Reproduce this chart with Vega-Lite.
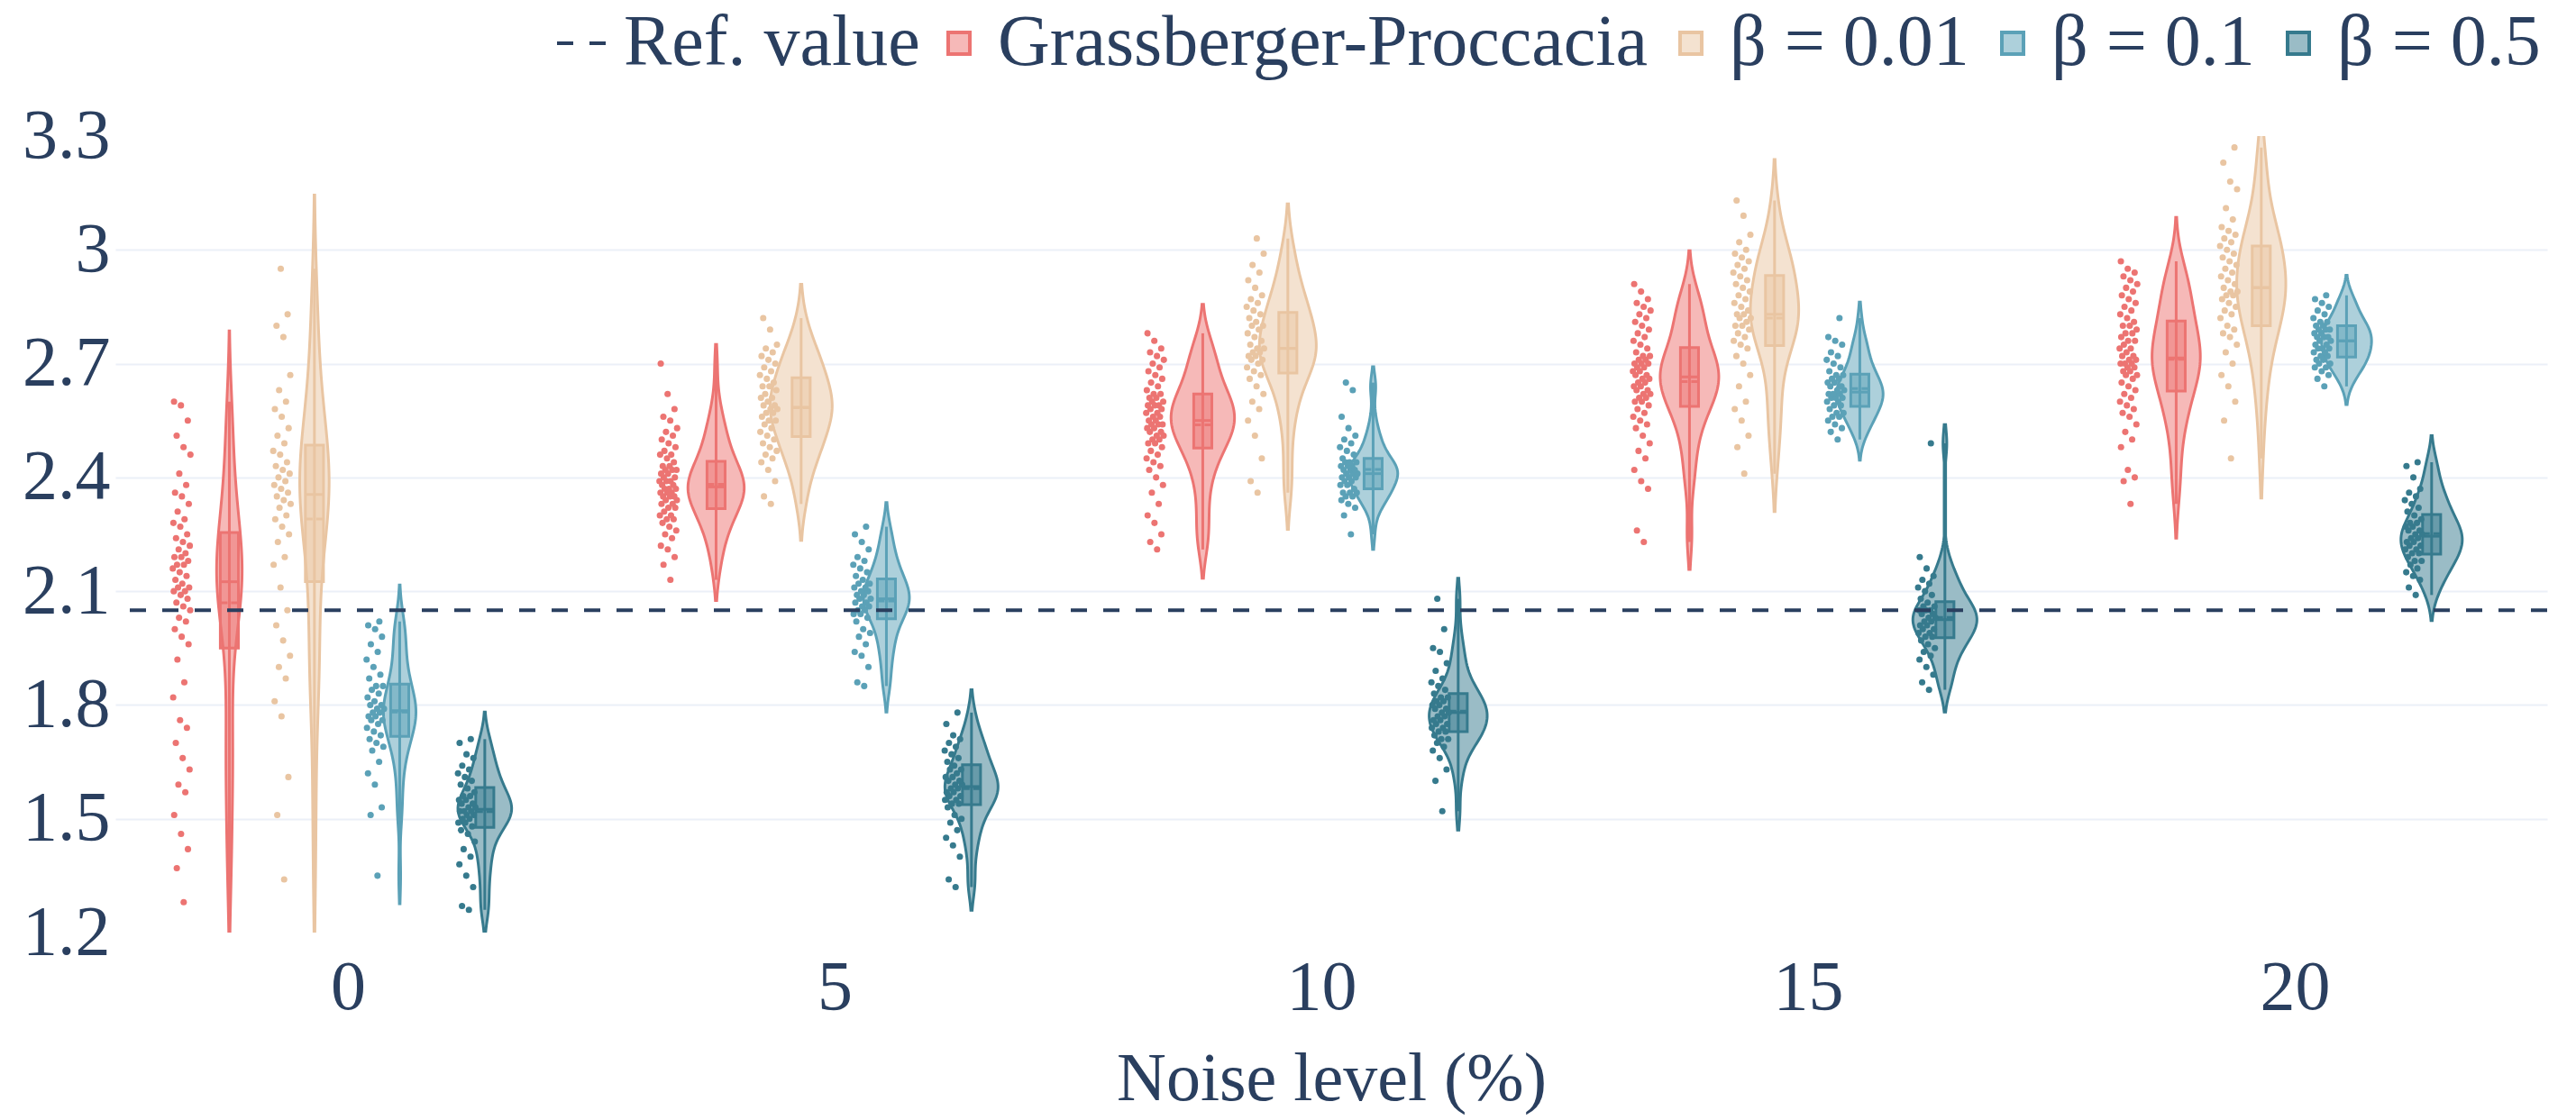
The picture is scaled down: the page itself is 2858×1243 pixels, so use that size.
{
"$schema": "https://vega.github.io/schema/vega-lite/v6.json",
"width": 2698, "height": 884,
"autosize": {"type": "none"},
"padding": {"left": 128, "top": 151, "right": 32, "bottom": 208},
"background": "white",
"config": {
  "view": {"stroke": null},
  "font": "Liberation Serif",
  "axis": {"labelFont": "Liberation Serif", "titleFont": "Liberation Serif", "labelColor": "#2a3f5f", "titleColor": "#2a3f5f", "domain": false, "ticks": false, "titleFontWeight": "normal"},
  "legend": {"labelFont": "Liberation Serif", "labelFontSize": 80, "labelColor": "#2a3f5f", "labelLimit": 2000, "padding": 0, "titlePadding": 0}
},
"datasets": {"pts": [
{"n":0,"g":0,"v":1.28},{"n":0,"g":0,"v":1.37},{"n":0,"g":0,"v":1.42},{"n":0,"g":0,"v":1.46},{"n":0,"g":0,"v":1.51},{"n":0,"g":0,"v":1.57},{"n":0,"g":0,"v":1.59},{"n":0,"g":0,"v":1.63},{"n":0,"g":0,"v":1.66},{"n":0,"g":0,"v":1.70},{"n":0,"g":0,"v":1.74},{"n":0,"g":0,"v":1.76},{"n":0,"g":0,"v":1.82},{"n":0,"g":0,"v":1.86},{"n":0,"g":0,"v":1.92},{"n":0,"g":0,"v":1.96},{"n":0,"g":0,"v":1.98},{"n":0,"g":0,"v":2.00},{"n":0,"g":0,"v":2.02},{"n":0,"g":0,"v":2.03},{"n":0,"g":0,"v":2.05},{"n":0,"g":0,"v":2.06},{"n":0,"g":0,"v":2.07},{"n":0,"g":0,"v":2.08},{"n":0,"g":0,"v":2.09},{"n":0,"g":0,"v":2.10},{"n":0,"g":0,"v":2.10},{"n":0,"g":0,"v":2.11},{"n":0,"g":0,"v":2.11},{"n":0,"g":0,"v":2.12},{"n":0,"g":0,"v":2.13},{"n":0,"g":0,"v":2.14},{"n":0,"g":0,"v":2.15},{"n":0,"g":0,"v":2.16},{"n":0,"g":0,"v":2.17},{"n":0,"g":0,"v":2.17},{"n":0,"g":0,"v":2.18},{"n":0,"g":0,"v":2.19},{"n":0,"g":0,"v":2.19},{"n":0,"g":0,"v":2.20},{"n":0,"g":0,"v":2.21},{"n":0,"g":0,"v":2.22},{"n":0,"g":0,"v":2.23},{"n":0,"g":0,"v":2.24},{"n":0,"g":0,"v":2.25},{"n":0,"g":0,"v":2.27},{"n":0,"g":0,"v":2.28},{"n":0,"g":0,"v":2.29},{"n":0,"g":0,"v":2.31},{"n":0,"g":0,"v":2.33},{"n":0,"g":0,"v":2.35},{"n":0,"g":0,"v":2.36},{"n":0,"g":0,"v":2.38},{"n":0,"g":0,"v":2.41},{"n":0,"g":0,"v":2.46},{"n":0,"g":0,"v":2.48},{"n":0,"g":0,"v":2.51},{"n":0,"g":0,"v":2.55},{"n":0,"g":0,"v":2.59},{"n":0,"g":0,"v":2.60},
{"n":0,"g":1,"v":1.34},{"n":0,"g":1,"v":1.51},{"n":0,"g":1,"v":1.61},{"n":0,"g":1,"v":1.77},{"n":0,"g":1,"v":1.81},{"n":0,"g":1,"v":1.87},{"n":0,"g":1,"v":1.90},{"n":0,"g":1,"v":1.93},{"n":0,"g":1,"v":1.97},{"n":0,"g":1,"v":2.01},{"n":0,"g":1,"v":2.05},{"n":0,"g":1,"v":2.11},{"n":0,"g":1,"v":2.17},{"n":0,"g":1,"v":2.19},{"n":0,"g":1,"v":2.23},{"n":0,"g":1,"v":2.25},{"n":0,"g":1,"v":2.27},{"n":0,"g":1,"v":2.29},{"n":0,"g":1,"v":2.30},{"n":0,"g":1,"v":2.32},{"n":0,"g":1,"v":2.33},{"n":0,"g":1,"v":2.34},{"n":0,"g":1,"v":2.35},{"n":0,"g":1,"v":2.36},{"n":0,"g":1,"v":2.37},{"n":0,"g":1,"v":2.38},{"n":0,"g":1,"v":2.39},{"n":0,"g":1,"v":2.40},{"n":0,"g":1,"v":2.41},{"n":0,"g":1,"v":2.42},{"n":0,"g":1,"v":2.43},{"n":0,"g":1,"v":2.44},{"n":0,"g":1,"v":2.46},{"n":0,"g":1,"v":2.47},{"n":0,"g":1,"v":2.49},{"n":0,"g":1,"v":2.51},{"n":0,"g":1,"v":2.53},{"n":0,"g":1,"v":2.56},{"n":0,"g":1,"v":2.58},{"n":0,"g":1,"v":2.60},{"n":0,"g":1,"v":2.63},{"n":0,"g":1,"v":2.67},{"n":0,"g":1,"v":2.77},{"n":0,"g":1,"v":2.80},{"n":0,"g":1,"v":2.83},{"n":0,"g":1,"v":2.95},
{"n":0,"g":2,"v":1.35},{"n":0,"g":2,"v":1.51},{"n":0,"g":2,"v":1.53},{"n":0,"g":2,"v":1.59},{"n":0,"g":2,"v":1.62},{"n":0,"g":2,"v":1.65},{"n":0,"g":2,"v":1.68},{"n":0,"g":2,"v":1.69},{"n":0,"g":2,"v":1.70},{"n":0,"g":2,"v":1.71},{"n":0,"g":2,"v":1.72},{"n":0,"g":2,"v":1.73},{"n":0,"g":2,"v":1.74},{"n":0,"g":2,"v":1.75},{"n":0,"g":2,"v":1.76},{"n":0,"g":2,"v":1.76},{"n":0,"g":2,"v":1.77},{"n":0,"g":2,"v":1.77},{"n":0,"g":2,"v":1.78},{"n":0,"g":2,"v":1.78},{"n":0,"g":2,"v":1.79},{"n":0,"g":2,"v":1.79},{"n":0,"g":2,"v":1.80},{"n":0,"g":2,"v":1.80},{"n":0,"g":2,"v":1.81},{"n":0,"g":2,"v":1.82},{"n":0,"g":2,"v":1.83},{"n":0,"g":2,"v":1.84},{"n":0,"g":2,"v":1.85},{"n":0,"g":2,"v":1.85},{"n":0,"g":2,"v":1.87},{"n":0,"g":2,"v":1.88},{"n":0,"g":2,"v":1.90},{"n":0,"g":2,"v":1.92},{"n":0,"g":2,"v":1.94},{"n":0,"g":2,"v":1.96},{"n":0,"g":2,"v":1.98},{"n":0,"g":2,"v":2.00},{"n":0,"g":2,"v":2.01},{"n":0,"g":2,"v":2.02},
{"n":0,"g":3,"v":1.26},{"n":0,"g":3,"v":1.27},{"n":0,"g":3,"v":1.32},{"n":0,"g":3,"v":1.35},{"n":0,"g":3,"v":1.38},{"n":0,"g":3,"v":1.40},{"n":0,"g":3,"v":1.42},{"n":0,"g":3,"v":1.44},{"n":0,"g":3,"v":1.46},{"n":0,"g":3,"v":1.47},{"n":0,"g":3,"v":1.48},{"n":0,"g":3,"v":1.49},{"n":0,"g":3,"v":1.49},{"n":0,"g":3,"v":1.50},{"n":0,"g":3,"v":1.50},{"n":0,"g":3,"v":1.51},{"n":0,"g":3,"v":1.51},{"n":0,"g":3,"v":1.52},{"n":0,"g":3,"v":1.52},{"n":0,"g":3,"v":1.52},{"n":0,"g":3,"v":1.53},{"n":0,"g":3,"v":1.53},{"n":0,"g":3,"v":1.54},{"n":0,"g":3,"v":1.54},{"n":0,"g":3,"v":1.55},{"n":0,"g":3,"v":1.55},{"n":0,"g":3,"v":1.56},{"n":0,"g":3,"v":1.56},{"n":0,"g":3,"v":1.57},{"n":0,"g":3,"v":1.58},{"n":0,"g":3,"v":1.59},{"n":0,"g":3,"v":1.60},{"n":0,"g":3,"v":1.61},{"n":0,"g":3,"v":1.62},{"n":0,"g":3,"v":1.63},{"n":0,"g":3,"v":1.64},{"n":0,"g":3,"v":1.66},{"n":0,"g":3,"v":1.67},{"n":0,"g":3,"v":1.70},{"n":0,"g":3,"v":1.71},
{"n":5,"g":0,"v":2.13},{"n":5,"g":0,"v":2.17},{"n":5,"g":0,"v":2.19},{"n":5,"g":0,"v":2.21},{"n":5,"g":0,"v":2.22},{"n":5,"g":0,"v":2.24},{"n":5,"g":0,"v":2.25},{"n":5,"g":0,"v":2.26},{"n":5,"g":0,"v":2.27},{"n":5,"g":0,"v":2.28},{"n":5,"g":0,"v":2.29},{"n":5,"g":0,"v":2.29},{"n":5,"g":0,"v":2.30},{"n":5,"g":0,"v":2.30},{"n":5,"g":0,"v":2.31},{"n":5,"g":0,"v":2.32},{"n":5,"g":0,"v":2.32},{"n":5,"g":0,"v":2.33},{"n":5,"g":0,"v":2.33},{"n":5,"g":0,"v":2.34},{"n":5,"g":0,"v":2.34},{"n":5,"g":0,"v":2.35},{"n":5,"g":0,"v":2.35},{"n":5,"g":0,"v":2.35},{"n":5,"g":0,"v":2.36},{"n":5,"g":0,"v":2.36},{"n":5,"g":0,"v":2.36},{"n":5,"g":0,"v":2.37},{"n":5,"g":0,"v":2.37},{"n":5,"g":0,"v":2.37},{"n":5,"g":0,"v":2.38},{"n":5,"g":0,"v":2.38},{"n":5,"g":0,"v":2.39},{"n":5,"g":0,"v":2.39},{"n":5,"g":0,"v":2.39},{"n":5,"g":0,"v":2.40},{"n":5,"g":0,"v":2.40},{"n":5,"g":0,"v":2.41},{"n":5,"g":0,"v":2.41},{"n":5,"g":0,"v":2.42},{"n":5,"g":0,"v":2.42},{"n":5,"g":0,"v":2.42},{"n":5,"g":0,"v":2.43},{"n":5,"g":0,"v":2.43},{"n":5,"g":0,"v":2.44},{"n":5,"g":0,"v":2.45},{"n":5,"g":0,"v":2.46},{"n":5,"g":0,"v":2.46},{"n":5,"g":0,"v":2.47},{"n":5,"g":0,"v":2.48},{"n":5,"g":0,"v":2.49},{"n":5,"g":0,"v":2.50},{"n":5,"g":0,"v":2.51},{"n":5,"g":0,"v":2.52},{"n":5,"g":0,"v":2.53},{"n":5,"g":0,"v":2.55},{"n":5,"g":0,"v":2.56},{"n":5,"g":0,"v":2.58},{"n":5,"g":0,"v":2.62},{"n":5,"g":0,"v":2.70},
{"n":5,"g":1,"v":2.33},{"n":5,"g":1,"v":2.35},{"n":5,"g":1,"v":2.39},{"n":5,"g":1,"v":2.42},{"n":5,"g":1,"v":2.44},{"n":5,"g":1,"v":2.45},{"n":5,"g":1,"v":2.46},{"n":5,"g":1,"v":2.47},{"n":5,"g":1,"v":2.48},{"n":5,"g":1,"v":2.49},{"n":5,"g":1,"v":2.50},{"n":5,"g":1,"v":2.51},{"n":5,"g":1,"v":2.52},{"n":5,"g":1,"v":2.53},{"n":5,"g":1,"v":2.54},{"n":5,"g":1,"v":2.55},{"n":5,"g":1,"v":2.55},{"n":5,"g":1,"v":2.56},{"n":5,"g":1,"v":2.57},{"n":5,"g":1,"v":2.57},{"n":5,"g":1,"v":2.58},{"n":5,"g":1,"v":2.58},{"n":5,"g":1,"v":2.59},{"n":5,"g":1,"v":2.59},{"n":5,"g":1,"v":2.60},{"n":5,"g":1,"v":2.61},{"n":5,"g":1,"v":2.61},{"n":5,"g":1,"v":2.62},{"n":5,"g":1,"v":2.63},{"n":5,"g":1,"v":2.64},{"n":5,"g":1,"v":2.64},{"n":5,"g":1,"v":2.65},{"n":5,"g":1,"v":2.66},{"n":5,"g":1,"v":2.67},{"n":5,"g":1,"v":2.68},{"n":5,"g":1,"v":2.69},{"n":5,"g":1,"v":2.70},{"n":5,"g":1,"v":2.71},{"n":5,"g":1,"v":2.72},{"n":5,"g":1,"v":2.73},{"n":5,"g":1,"v":2.74},{"n":5,"g":1,"v":2.75},{"n":5,"g":1,"v":2.79},{"n":5,"g":1,"v":2.82},
{"n":5,"g":2,"v":1.85},{"n":5,"g":2,"v":1.86},{"n":5,"g":2,"v":1.90},{"n":5,"g":2,"v":1.93},{"n":5,"g":2,"v":1.94},{"n":5,"g":2,"v":1.96},{"n":5,"g":2,"v":1.98},{"n":5,"g":2,"v":1.99},{"n":5,"g":2,"v":2.00},{"n":5,"g":2,"v":2.02},{"n":5,"g":2,"v":2.03},{"n":5,"g":2,"v":2.04},{"n":5,"g":2,"v":2.04},{"n":5,"g":2,"v":2.05},{"n":5,"g":2,"v":2.05},{"n":5,"g":2,"v":2.06},{"n":5,"g":2,"v":2.06},{"n":5,"g":2,"v":2.07},{"n":5,"g":2,"v":2.07},{"n":5,"g":2,"v":2.08},{"n":5,"g":2,"v":2.08},{"n":5,"g":2,"v":2.09},{"n":5,"g":2,"v":2.09},{"n":5,"g":2,"v":2.10},{"n":5,"g":2,"v":2.10},{"n":5,"g":2,"v":2.11},{"n":5,"g":2,"v":2.11},{"n":5,"g":2,"v":2.12},{"n":5,"g":2,"v":2.12},{"n":5,"g":2,"v":2.13},{"n":5,"g":2,"v":2.14},{"n":5,"g":2,"v":2.15},{"n":5,"g":2,"v":2.16},{"n":5,"g":2,"v":2.17},{"n":5,"g":2,"v":2.18},{"n":5,"g":2,"v":2.19},{"n":5,"g":2,"v":2.21},{"n":5,"g":2,"v":2.23},{"n":5,"g":2,"v":2.25},{"n":5,"g":2,"v":2.27},
{"n":5,"g":3,"v":1.32},{"n":5,"g":3,"v":1.34},{"n":5,"g":3,"v":1.40},{"n":5,"g":3,"v":1.43},{"n":5,"g":3,"v":1.45},{"n":5,"g":3,"v":1.47},{"n":5,"g":3,"v":1.49},{"n":5,"g":3,"v":1.50},{"n":5,"g":3,"v":1.51},{"n":5,"g":3,"v":1.53},{"n":5,"g":3,"v":1.54},{"n":5,"g":3,"v":1.54},{"n":5,"g":3,"v":1.55},{"n":5,"g":3,"v":1.55},{"n":5,"g":3,"v":1.56},{"n":5,"g":3,"v":1.56},{"n":5,"g":3,"v":1.57},{"n":5,"g":3,"v":1.57},{"n":5,"g":3,"v":1.58},{"n":5,"g":3,"v":1.58},{"n":5,"g":3,"v":1.59},{"n":5,"g":3,"v":1.59},{"n":5,"g":3,"v":1.60},{"n":5,"g":3,"v":1.60},{"n":5,"g":3,"v":1.61},{"n":5,"g":3,"v":1.61},{"n":5,"g":3,"v":1.62},{"n":5,"g":3,"v":1.63},{"n":5,"g":3,"v":1.63},{"n":5,"g":3,"v":1.64},{"n":5,"g":3,"v":1.65},{"n":5,"g":3,"v":1.66},{"n":5,"g":3,"v":1.67},{"n":5,"g":3,"v":1.68},{"n":5,"g":3,"v":1.69},{"n":5,"g":3,"v":1.70},{"n":5,"g":3,"v":1.71},{"n":5,"g":3,"v":1.72},{"n":5,"g":3,"v":1.75},{"n":5,"g":3,"v":1.78},
{"n":10,"g":0,"v":2.21},{"n":10,"g":0,"v":2.23},{"n":10,"g":0,"v":2.25},{"n":10,"g":0,"v":2.28},{"n":10,"g":0,"v":2.30},{"n":10,"g":0,"v":2.33},{"n":10,"g":0,"v":2.36},{"n":10,"g":0,"v":2.38},{"n":10,"g":0,"v":2.40},{"n":10,"g":0,"v":2.42},{"n":10,"g":0,"v":2.43},{"n":10,"g":0,"v":2.44},{"n":10,"g":0,"v":2.45},{"n":10,"g":0,"v":2.46},{"n":10,"g":0,"v":2.47},{"n":10,"g":0,"v":2.48},{"n":10,"g":0,"v":2.49},{"n":10,"g":0,"v":2.49},{"n":10,"g":0,"v":2.50},{"n":10,"g":0,"v":2.50},{"n":10,"g":0,"v":2.51},{"n":10,"g":0,"v":2.51},{"n":10,"g":0,"v":2.52},{"n":10,"g":0,"v":2.52},{"n":10,"g":0,"v":2.53},{"n":10,"g":0,"v":2.53},{"n":10,"g":0,"v":2.54},{"n":10,"g":0,"v":2.54},{"n":10,"g":0,"v":2.54},{"n":10,"g":0,"v":2.55},{"n":10,"g":0,"v":2.55},{"n":10,"g":0,"v":2.56},{"n":10,"g":0,"v":2.56},{"n":10,"g":0,"v":2.57},{"n":10,"g":0,"v":2.57},{"n":10,"g":0,"v":2.58},{"n":10,"g":0,"v":2.58},{"n":10,"g":0,"v":2.59},{"n":10,"g":0,"v":2.59},{"n":10,"g":0,"v":2.59},{"n":10,"g":0,"v":2.60},{"n":10,"g":0,"v":2.60},{"n":10,"g":0,"v":2.61},{"n":10,"g":0,"v":2.61},{"n":10,"g":0,"v":2.62},{"n":10,"g":0,"v":2.62},{"n":10,"g":0,"v":2.63},{"n":10,"g":0,"v":2.64},{"n":10,"g":0,"v":2.65},{"n":10,"g":0,"v":2.66},{"n":10,"g":0,"v":2.67},{"n":10,"g":0,"v":2.68},{"n":10,"g":0,"v":2.69},{"n":10,"g":0,"v":2.70},{"n":10,"g":0,"v":2.71},{"n":10,"g":0,"v":2.72},{"n":10,"g":0,"v":2.73},{"n":10,"g":0,"v":2.74},{"n":10,"g":0,"v":2.76},{"n":10,"g":0,"v":2.78},
{"n":10,"g":1,"v":2.36},{"n":10,"g":1,"v":2.39},{"n":10,"g":1,"v":2.45},{"n":10,"g":1,"v":2.51},{"n":10,"g":1,"v":2.55},{"n":10,"g":1,"v":2.58},{"n":10,"g":1,"v":2.60},{"n":10,"g":1,"v":2.62},{"n":10,"g":1,"v":2.64},{"n":10,"g":1,"v":2.66},{"n":10,"g":1,"v":2.67},{"n":10,"g":1,"v":2.68},{"n":10,"g":1,"v":2.69},{"n":10,"g":1,"v":2.70},{"n":10,"g":1,"v":2.71},{"n":10,"g":1,"v":2.71},{"n":10,"g":1,"v":2.72},{"n":10,"g":1,"v":2.72},{"n":10,"g":1,"v":2.73},{"n":10,"g":1,"v":2.73},{"n":10,"g":1,"v":2.74},{"n":10,"g":1,"v":2.74},{"n":10,"g":1,"v":2.75},{"n":10,"g":1,"v":2.76},{"n":10,"g":1,"v":2.77},{"n":10,"g":1,"v":2.78},{"n":10,"g":1,"v":2.79},{"n":10,"g":1,"v":2.80},{"n":10,"g":1,"v":2.80},{"n":10,"g":1,"v":2.81},{"n":10,"g":1,"v":2.82},{"n":10,"g":1,"v":2.83},{"n":10,"g":1,"v":2.84},{"n":10,"g":1,"v":2.85},{"n":10,"g":1,"v":2.86},{"n":10,"g":1,"v":2.87},{"n":10,"g":1,"v":2.88},{"n":10,"g":1,"v":2.90},{"n":10,"g":1,"v":2.92},{"n":10,"g":1,"v":2.94},{"n":10,"g":1,"v":2.96},{"n":10,"g":1,"v":2.99},{"n":10,"g":1,"v":3.03},
{"n":10,"g":2,"v":2.25},{"n":10,"g":2,"v":2.30},{"n":10,"g":2,"v":2.32},{"n":10,"g":2,"v":2.33},{"n":10,"g":2,"v":2.34},{"n":10,"g":2,"v":2.35},{"n":10,"g":2,"v":2.35},{"n":10,"g":2,"v":2.36},{"n":10,"g":2,"v":2.36},{"n":10,"g":2,"v":2.36},{"n":10,"g":2,"v":2.37},{"n":10,"g":2,"v":2.38},{"n":10,"g":2,"v":2.38},{"n":10,"g":2,"v":2.39},{"n":10,"g":2,"v":2.39},{"n":10,"g":2,"v":2.40},{"n":10,"g":2,"v":2.40},{"n":10,"g":2,"v":2.40},{"n":10,"g":2,"v":2.41},{"n":10,"g":2,"v":2.41},{"n":10,"g":2,"v":2.41},{"n":10,"g":2,"v":2.42},{"n":10,"g":2,"v":2.42},{"n":10,"g":2,"v":2.42},{"n":10,"g":2,"v":2.43},{"n":10,"g":2,"v":2.43},{"n":10,"g":2,"v":2.43},{"n":10,"g":2,"v":2.44},{"n":10,"g":2,"v":2.44},{"n":10,"g":2,"v":2.44},{"n":10,"g":2,"v":2.45},{"n":10,"g":2,"v":2.46},{"n":10,"g":2,"v":2.47},{"n":10,"g":2,"v":2.48},{"n":10,"g":2,"v":2.49},{"n":10,"g":2,"v":2.50},{"n":10,"g":2,"v":2.51},{"n":10,"g":2,"v":2.53},{"n":10,"g":2,"v":2.56},{"n":10,"g":2,"v":2.63},{"n":10,"g":2,"v":2.65},
{"n":10,"g":3,"v":1.52},{"n":10,"g":3,"v":1.60},{"n":10,"g":3,"v":1.63},{"n":10,"g":3,"v":1.66},{"n":10,"g":3,"v":1.68},{"n":10,"g":3,"v":1.69},{"n":10,"g":3,"v":1.70},{"n":10,"g":3,"v":1.71},{"n":10,"g":3,"v":1.71},{"n":10,"g":3,"v":1.72},{"n":10,"g":3,"v":1.73},{"n":10,"g":3,"v":1.73},{"n":10,"g":3,"v":1.74},{"n":10,"g":3,"v":1.74},{"n":10,"g":3,"v":1.75},{"n":10,"g":3,"v":1.75},{"n":10,"g":3,"v":1.76},{"n":10,"g":3,"v":1.76},{"n":10,"g":3,"v":1.77},{"n":10,"g":3,"v":1.77},{"n":10,"g":3,"v":1.78},{"n":10,"g":3,"v":1.78},{"n":10,"g":3,"v":1.79},{"n":10,"g":3,"v":1.79},{"n":10,"g":3,"v":1.80},{"n":10,"g":3,"v":1.80},{"n":10,"g":3,"v":1.81},{"n":10,"g":3,"v":1.81},{"n":10,"g":3,"v":1.82},{"n":10,"g":3,"v":1.82},{"n":10,"g":3,"v":1.83},{"n":10,"g":3,"v":1.84},{"n":10,"g":3,"v":1.85},{"n":10,"g":3,"v":1.86},{"n":10,"g":3,"v":1.87},{"n":10,"g":3,"v":1.89},{"n":10,"g":3,"v":1.91},{"n":10,"g":3,"v":1.94},{"n":10,"g":3,"v":1.95},{"n":10,"g":3,"v":2.00},{"n":10,"g":3,"v":2.08},
{"n":15,"g":0,"v":2.23},{"n":15,"g":0,"v":2.26},{"n":15,"g":0,"v":2.37},{"n":15,"g":0,"v":2.39},{"n":15,"g":0,"v":2.42},{"n":15,"g":0,"v":2.45},{"n":15,"g":0,"v":2.47},{"n":15,"g":0,"v":2.49},{"n":15,"g":0,"v":2.51},{"n":15,"g":0,"v":2.53},{"n":15,"g":0,"v":2.54},{"n":15,"g":0,"v":2.55},{"n":15,"g":0,"v":2.56},{"n":15,"g":0,"v":2.57},{"n":15,"g":0,"v":2.58},{"n":15,"g":0,"v":2.59},{"n":15,"g":0,"v":2.60},{"n":15,"g":0,"v":2.60},{"n":15,"g":0,"v":2.61},{"n":15,"g":0,"v":2.61},{"n":15,"g":0,"v":2.62},{"n":15,"g":0,"v":2.62},{"n":15,"g":0,"v":2.63},{"n":15,"g":0,"v":2.63},{"n":15,"g":0,"v":2.64},{"n":15,"g":0,"v":2.64},{"n":15,"g":0,"v":2.65},{"n":15,"g":0,"v":2.65},{"n":15,"g":0,"v":2.66},{"n":15,"g":0,"v":2.66},{"n":15,"g":0,"v":2.67},{"n":15,"g":0,"v":2.67},{"n":15,"g":0,"v":2.68},{"n":15,"g":0,"v":2.68},{"n":15,"g":0,"v":2.69},{"n":15,"g":0,"v":2.69},{"n":15,"g":0,"v":2.70},{"n":15,"g":0,"v":2.70},{"n":15,"g":0,"v":2.70},{"n":15,"g":0,"v":2.71},{"n":15,"g":0,"v":2.71},{"n":15,"g":0,"v":2.72},{"n":15,"g":0,"v":2.72},{"n":15,"g":0,"v":2.73},{"n":15,"g":0,"v":2.74},{"n":15,"g":0,"v":2.75},{"n":15,"g":0,"v":2.76},{"n":15,"g":0,"v":2.77},{"n":15,"g":0,"v":2.78},{"n":15,"g":0,"v":2.79},{"n":15,"g":0,"v":2.80},{"n":15,"g":0,"v":2.81},{"n":15,"g":0,"v":2.82},{"n":15,"g":0,"v":2.83},{"n":15,"g":0,"v":2.84},{"n":15,"g":0,"v":2.85},{"n":15,"g":0,"v":2.86},{"n":15,"g":0,"v":2.87},{"n":15,"g":0,"v":2.89},{"n":15,"g":0,"v":2.91},
{"n":15,"g":1,"v":2.41},{"n":15,"g":1,"v":2.48},{"n":15,"g":1,"v":2.51},{"n":15,"g":1,"v":2.55},{"n":15,"g":1,"v":2.58},{"n":15,"g":1,"v":2.60},{"n":15,"g":1,"v":2.64},{"n":15,"g":1,"v":2.67},{"n":15,"g":1,"v":2.70},{"n":15,"g":1,"v":2.72},{"n":15,"g":1,"v":2.74},{"n":15,"g":1,"v":2.75},{"n":15,"g":1,"v":2.76},{"n":15,"g":1,"v":2.77},{"n":15,"g":1,"v":2.78},{"n":15,"g":1,"v":2.79},{"n":15,"g":1,"v":2.80},{"n":15,"g":1,"v":2.80},{"n":15,"g":1,"v":2.81},{"n":15,"g":1,"v":2.82},{"n":15,"g":1,"v":2.82},{"n":15,"g":1,"v":2.83},{"n":15,"g":1,"v":2.83},{"n":15,"g":1,"v":2.84},{"n":15,"g":1,"v":2.85},{"n":15,"g":1,"v":2.86},{"n":15,"g":1,"v":2.87},{"n":15,"g":1,"v":2.88},{"n":15,"g":1,"v":2.89},{"n":15,"g":1,"v":2.90},{"n":15,"g":1,"v":2.91},{"n":15,"g":1,"v":2.92},{"n":15,"g":1,"v":2.93},{"n":15,"g":1,"v":2.94},{"n":15,"g":1,"v":2.95},{"n":15,"g":1,"v":2.96},{"n":15,"g":1,"v":2.97},{"n":15,"g":1,"v":2.98},{"n":15,"g":1,"v":2.99},{"n":15,"g":1,"v":3.00},{"n":15,"g":1,"v":3.02},{"n":15,"g":1,"v":3.04},{"n":15,"g":1,"v":3.09},{"n":15,"g":1,"v":3.13},
{"n":15,"g":2,"v":2.50},{"n":15,"g":2,"v":2.52},{"n":15,"g":2,"v":2.53},{"n":15,"g":2,"v":2.54},{"n":15,"g":2,"v":2.55},{"n":15,"g":2,"v":2.56},{"n":15,"g":2,"v":2.56},{"n":15,"g":2,"v":2.57},{"n":15,"g":2,"v":2.57},{"n":15,"g":2,"v":2.58},{"n":15,"g":2,"v":2.59},{"n":15,"g":2,"v":2.59},{"n":15,"g":2,"v":2.60},{"n":15,"g":2,"v":2.60},{"n":15,"g":2,"v":2.61},{"n":15,"g":2,"v":2.61},{"n":15,"g":2,"v":2.61},{"n":15,"g":2,"v":2.62},{"n":15,"g":2,"v":2.62},{"n":15,"g":2,"v":2.62},{"n":15,"g":2,"v":2.63},{"n":15,"g":2,"v":2.63},{"n":15,"g":2,"v":2.64},{"n":15,"g":2,"v":2.64},{"n":15,"g":2,"v":2.65},{"n":15,"g":2,"v":2.65},{"n":15,"g":2,"v":2.66},{"n":15,"g":2,"v":2.66},{"n":15,"g":2,"v":2.67},{"n":15,"g":2,"v":2.67},{"n":15,"g":2,"v":2.68},{"n":15,"g":2,"v":2.69},{"n":15,"g":2,"v":2.70},{"n":15,"g":2,"v":2.71},{"n":15,"g":2,"v":2.72},{"n":15,"g":2,"v":2.73},{"n":15,"g":2,"v":2.75},{"n":15,"g":2,"v":2.76},{"n":15,"g":2,"v":2.77},{"n":15,"g":2,"v":2.82},
{"n":15,"g":3,"v":1.84},{"n":15,"g":3,"v":1.86},{"n":15,"g":3,"v":1.88},{"n":15,"g":3,"v":1.90},{"n":15,"g":3,"v":1.92},{"n":15,"g":3,"v":1.93},{"n":15,"g":3,"v":1.94},{"n":15,"g":3,"v":1.95},{"n":15,"g":3,"v":1.96},{"n":15,"g":3,"v":1.97},{"n":15,"g":3,"v":1.98},{"n":15,"g":3,"v":1.98},{"n":15,"g":3,"v":1.99},{"n":15,"g":3,"v":1.99},{"n":15,"g":3,"v":2.00},{"n":15,"g":3,"v":2.00},{"n":15,"g":3,"v":2.01},{"n":15,"g":3,"v":2.01},{"n":15,"g":3,"v":2.02},{"n":15,"g":3,"v":2.02},{"n":15,"g":3,"v":2.03},{"n":15,"g":3,"v":2.03},{"n":15,"g":3,"v":2.04},{"n":15,"g":3,"v":2.04},{"n":15,"g":3,"v":2.05},{"n":15,"g":3,"v":2.05},{"n":15,"g":3,"v":2.05},{"n":15,"g":3,"v":2.06},{"n":15,"g":3,"v":2.06},{"n":15,"g":3,"v":2.07},{"n":15,"g":3,"v":2.08},{"n":15,"g":3,"v":2.09},{"n":15,"g":3,"v":2.10},{"n":15,"g":3,"v":2.11},{"n":15,"g":3,"v":2.12},{"n":15,"g":3,"v":2.13},{"n":15,"g":3,"v":2.14},{"n":15,"g":3,"v":2.16},{"n":15,"g":3,"v":2.19},{"n":15,"g":3,"v":2.49},
{"n":20,"g":0,"v":2.33},{"n":20,"g":0,"v":2.39},{"n":20,"g":0,"v":2.40},{"n":20,"g":0,"v":2.42},{"n":20,"g":0,"v":2.48},{"n":20,"g":0,"v":2.50},{"n":20,"g":0,"v":2.52},{"n":20,"g":0,"v":2.54},{"n":20,"g":0,"v":2.56},{"n":20,"g":0,"v":2.57},{"n":20,"g":0,"v":2.58},{"n":20,"g":0,"v":2.59},{"n":20,"g":0,"v":2.60},{"n":20,"g":0,"v":2.61},{"n":20,"g":0,"v":2.62},{"n":20,"g":0,"v":2.63},{"n":20,"g":0,"v":2.64},{"n":20,"g":0,"v":2.65},{"n":20,"g":0,"v":2.66},{"n":20,"g":0,"v":2.67},{"n":20,"g":0,"v":2.67},{"n":20,"g":0,"v":2.68},{"n":20,"g":0,"v":2.68},{"n":20,"g":0,"v":2.69},{"n":20,"g":0,"v":2.69},{"n":20,"g":0,"v":2.70},{"n":20,"g":0,"v":2.70},{"n":20,"g":0,"v":2.70},{"n":20,"g":0,"v":2.71},{"n":20,"g":0,"v":2.71},{"n":20,"g":0,"v":2.72},{"n":20,"g":0,"v":2.72},{"n":20,"g":0,"v":2.73},{"n":20,"g":0,"v":2.74},{"n":20,"g":0,"v":2.74},{"n":20,"g":0,"v":2.75},{"n":20,"g":0,"v":2.76},{"n":20,"g":0,"v":2.76},{"n":20,"g":0,"v":2.77},{"n":20,"g":0,"v":2.78},{"n":20,"g":0,"v":2.78},{"n":20,"g":0,"v":2.79},{"n":20,"g":0,"v":2.80},{"n":20,"g":0,"v":2.80},{"n":20,"g":0,"v":2.81},{"n":20,"g":0,"v":2.82},{"n":20,"g":0,"v":2.83},{"n":20,"g":0,"v":2.84},{"n":20,"g":0,"v":2.85},{"n":20,"g":0,"v":2.86},{"n":20,"g":0,"v":2.87},{"n":20,"g":0,"v":2.88},{"n":20,"g":0,"v":2.89},{"n":20,"g":0,"v":2.90},{"n":20,"g":0,"v":2.91},{"n":20,"g":0,"v":2.92},{"n":20,"g":0,"v":2.93},{"n":20,"g":0,"v":2.94},{"n":20,"g":0,"v":2.95},{"n":20,"g":0,"v":2.97},
{"n":20,"g":1,"v":2.45},{"n":20,"g":1,"v":2.55},{"n":20,"g":1,"v":2.60},{"n":20,"g":1,"v":2.64},{"n":20,"g":1,"v":2.67},{"n":20,"g":1,"v":2.70},{"n":20,"g":1,"v":2.73},{"n":20,"g":1,"v":2.75},{"n":20,"g":1,"v":2.77},{"n":20,"g":1,"v":2.78},{"n":20,"g":1,"v":2.79},{"n":20,"g":1,"v":2.80},{"n":20,"g":1,"v":2.82},{"n":20,"g":1,"v":2.83},{"n":20,"g":1,"v":2.84},{"n":20,"g":1,"v":2.85},{"n":20,"g":1,"v":2.86},{"n":20,"g":1,"v":2.87},{"n":20,"g":1,"v":2.88},{"n":20,"g":1,"v":2.88},{"n":20,"g":1,"v":2.89},{"n":20,"g":1,"v":2.89},{"n":20,"g":1,"v":2.90},{"n":20,"g":1,"v":2.91},{"n":20,"g":1,"v":2.92},{"n":20,"g":1,"v":2.93},{"n":20,"g":1,"v":2.94},{"n":20,"g":1,"v":2.95},{"n":20,"g":1,"v":2.96},{"n":20,"g":1,"v":2.97},{"n":20,"g":1,"v":2.98},{"n":20,"g":1,"v":2.99},{"n":20,"g":1,"v":3.00},{"n":20,"g":1,"v":3.01},{"n":20,"g":1,"v":3.02},{"n":20,"g":1,"v":3.03},{"n":20,"g":1,"v":3.04},{"n":20,"g":1,"v":3.05},{"n":20,"g":1,"v":3.06},{"n":20,"g":1,"v":3.08},{"n":20,"g":1,"v":3.11},{"n":20,"g":1,"v":3.16},{"n":20,"g":1,"v":3.18},{"n":20,"g":1,"v":3.23},{"n":20,"g":1,"v":3.27},
{"n":20,"g":2,"v":2.64},{"n":20,"g":2,"v":2.66},{"n":20,"g":2,"v":2.67},{"n":20,"g":2,"v":2.68},{"n":20,"g":2,"v":2.69},{"n":20,"g":2,"v":2.69},{"n":20,"g":2,"v":2.70},{"n":20,"g":2,"v":2.70},{"n":20,"g":2,"v":2.71},{"n":20,"g":2,"v":2.71},{"n":20,"g":2,"v":2.72},{"n":20,"g":2,"v":2.72},{"n":20,"g":2,"v":2.73},{"n":20,"g":2,"v":2.73},{"n":20,"g":2,"v":2.74},{"n":20,"g":2,"v":2.74},{"n":20,"g":2,"v":2.74},{"n":20,"g":2,"v":2.75},{"n":20,"g":2,"v":2.75},{"n":20,"g":2,"v":2.76},{"n":20,"g":2,"v":2.76},{"n":20,"g":2,"v":2.77},{"n":20,"g":2,"v":2.77},{"n":20,"g":2,"v":2.77},{"n":20,"g":2,"v":2.78},{"n":20,"g":2,"v":2.78},{"n":20,"g":2,"v":2.79},{"n":20,"g":2,"v":2.79},{"n":20,"g":2,"v":2.79},{"n":20,"g":2,"v":2.80},{"n":20,"g":2,"v":2.80},{"n":20,"g":2,"v":2.81},{"n":20,"g":2,"v":2.81},{"n":20,"g":2,"v":2.82},{"n":20,"g":2,"v":2.83},{"n":20,"g":2,"v":2.84},{"n":20,"g":2,"v":2.85},{"n":20,"g":2,"v":2.86},{"n":20,"g":2,"v":2.87},{"n":20,"g":2,"v":2.88},
{"n":20,"g":3,"v":2.09},{"n":20,"g":3,"v":2.11},{"n":20,"g":3,"v":2.13},{"n":20,"g":3,"v":2.14},{"n":20,"g":3,"v":2.15},{"n":20,"g":3,"v":2.16},{"n":20,"g":3,"v":2.17},{"n":20,"g":3,"v":2.18},{"n":20,"g":3,"v":2.18},{"n":20,"g":3,"v":2.19},{"n":20,"g":3,"v":2.20},{"n":20,"g":3,"v":2.20},{"n":20,"g":3,"v":2.21},{"n":20,"g":3,"v":2.21},{"n":20,"g":3,"v":2.22},{"n":20,"g":3,"v":2.22},{"n":20,"g":3,"v":2.23},{"n":20,"g":3,"v":2.23},{"n":20,"g":3,"v":2.24},{"n":20,"g":3,"v":2.24},{"n":20,"g":3,"v":2.25},{"n":20,"g":3,"v":2.25},{"n":20,"g":3,"v":2.26},{"n":20,"g":3,"v":2.26},{"n":20,"g":3,"v":2.27},{"n":20,"g":3,"v":2.27},{"n":20,"g":3,"v":2.28},{"n":20,"g":3,"v":2.28},{"n":20,"g":3,"v":2.29},{"n":20,"g":3,"v":2.30},{"n":20,"g":3,"v":2.31},{"n":20,"g":3,"v":2.32},{"n":20,"g":3,"v":2.33},{"n":20,"g":3,"v":2.34},{"n":20,"g":3,"v":2.35},{"n":20,"g":3,"v":2.36},{"n":20,"g":3,"v":2.37},{"n":20,"g":3,"v":2.40},{"n":20,"g":3,"v":2.43},{"n":20,"g":3,"v":2.44}
]},
"data": {"name": "pts"},
"layer": [
  {
    "transform": [
      {"density": "v", "groupby": ["n", "g"], "extent": [1.1, 3.45], "steps": 400, "as": ["val", "dens"]},
      {"joinaggregate": [{"op": "max", "field": "dens", "as": "md"}], "groupby": ["n", "g"]},
      {"calculate": "datum.dens / datum.md", "as": "rd"},
      {"filter": "datum.rd > 0.02"},
      {"calculate": "datum.n + [-1.218, -0.344, 0.532, 1.406][datum.g]", "as": "xc"},
      {"calculate": "[[0.131, 0.151, 0.167, 0.276], [0.289, 0.319, 0.236, 0.273], [0.326, 0.292, 0.253, 0.298], [0.301, 0.248, 0.239, 0.329], [0.248, 0.252, 0.257, 0.315]][datum.n / 5][datum.g] * datum.rd", "as": "hw"},
      {"calculate": "datum.xc - datum.hw", "as": "x1"},
      {"calculate": "datum.xc + datum.hw", "as": "x2"}
    ],
    "mark": {"type": "area", "orient": "horizontal", "strokeWidth": 3, "clip": true},
    "encoding": {
      "y": {"field": "val", "type": "quantitative", "scale": {"domain": [1.2, 3.3], "nice": false, "zero": false},
        "axis": {"title": null, "values": [1.2, 1.5, 1.8, 2.1, 2.4, 2.7, 3, 3.3], "format": "~g", "labelFontSize": 78, "labelPadding": 6, "grid": true, "gridColor": "#EBF0F8", "gridWidth": 2,
          "gridOpacity": {"condition": {"test": "datum.value < 1.3 || datum.value > 3.2", "value": 0}, "value": 1}}},
      "x": {"field": "x1", "type": "quantitative", "stack": null, "scale": {"domain": [-2.389, 22.593], "nice": false, "zero": false},
        "axis": {"title": "Noise level (%)", "values": [0, 5, 10, 15, 20], "format": "d", "labelFontSize": 78, "labelPadding": 22, "titleFontSize": 76, "titlePadding": 25, "grid": false, "labelAngle": 0, "labelFlush": false}},
      "x2": {"field": "x2"},
      "detail": {"field": "n", "type": "nominal"},
      "fill": {"field": "g", "type": "nominal", "scale": {"domain": [0, 1, 2, 3], "range": ["#F6B9B8", "#F4E2D0", "#ADD0DB", "#9ABCC6"]},
        "legend": {"orient": "none", "legendX": 896, "legendY": -143, "direction": "horizontal", "title": null, "symbolType": "square", "symbolSize": 576, "symbolStrokeWidth": 4, "labelOffset": 3, "columnPadding": 8,
          "labelExpr": "['Grassberger-Proccacia', 'β = 0.01', 'β = 0.1', 'β = 0.5'][datum.value]"}},
      "stroke": {"field": "g", "type": "nominal", "scale": {"domain": [0, 1, 2, 3], "range": ["#EC7472", "#E9C5A2", "#5BA1B7", "#367A8D"]},
        "legend": {"orient": "none", "legendX": 896, "legendY": -143, "direction": "horizontal", "title": null, "symbolType": "square", "symbolSize": 576, "symbolStrokeWidth": 4, "labelOffset": 3, "columnPadding": 8,
          "labelExpr": "['Grassberger-Proccacia', 'β = 0.01', 'β = 0.1', 'β = 0.5'][datum.value]"}}
    }
  },
  {
    "transform": [
      {"aggregate": [{"op": "q1", "field": "v", "as": "q1"}, {"op": "median", "field": "v", "as": "med"}, {"op": "mean", "field": "v", "as": "mu"}, {"op": "q3", "field": "v", "as": "q3"}, {"op": "min", "field": "v", "as": "lo"}, {"op": "max", "field": "v", "as": "hi"}], "groupby": ["n", "g"]},
      {"calculate": "datum.n + [-1.218, -0.344, 0.532, 1.406][datum.g]", "as": "xc"},
      {"calculate": "datum.xc - 0.093", "as": "bx1"},
      {"calculate": "datum.xc + 0.093", "as": "bx2"}
    ],
    "layer": [
      {
        "mark": {"type": "rule", "strokeWidth": 3},
        "encoding": {
          "x": {"field": "xc", "type": "quantitative"},
          "y": {"field": "lo", "type": "quantitative"},
          "y2": {"field": "hi"},
          "stroke": {"field": "g", "type": "nominal", "legend": null}
        }
      },
      {
        "mark": {"type": "rect", "strokeWidth": 3, "fillOpacity": 0.5},
        "encoding": {
          "x": {"field": "bx1", "type": "quantitative"},
          "x2": {"field": "bx2"},
          "y": {"field": "q1", "type": "quantitative"},
          "y2": {"field": "q3"},
          "color": {"field": "g", "type": "nominal", "scale": {"domain": [0, 1, 2, 3], "range": ["#EC7472", "#E9C5A2", "#5BA1B7", "#367A8D"]}, "legend": null},
          "stroke": {"field": "g", "type": "nominal", "legend": null}
        }
      },
      {
        "mark": {"type": "rule", "strokeWidth": 3},
        "encoding": {
          "x": {"field": "bx1", "type": "quantitative"},
          "x2": {"field": "bx2"},
          "y": {"field": "med", "type": "quantitative"},
          "stroke": {"field": "g", "type": "nominal", "legend": null}
        }
      },
      {
        "mark": {"type": "rule", "strokeWidth": 3, "strokeDash": [8, 4]},
        "encoding": {
          "x": {"field": "bx1", "type": "quantitative"},
          "x2": {"field": "bx2"},
          "y": {"field": "mu", "type": "quantitative"},
          "stroke": {"field": "g", "type": "nominal", "legend": null}
        }
      }
    ]
  },
  {
    "transform": [
      {"window": [{"op": "row_number", "as": "rn"}], "groupby": ["n", "g"]},
      {"calculate": "datum.n + [-1.709, -0.677, 0.282, 1.221][datum.g] + ((datum.rn * 0.618034) % 1 - 0.5) * 0.185", "as": "px"}
    ],
    "mark": {"type": "circle", "size": 50, "opacity": 1},
    "encoding": {
      "x": {"field": "px", "type": "quantitative"},
      "y": {"field": "v", "type": "quantitative"},
      "color": {"field": "g", "type": "nominal", "legend": null}
    }
  },
  {
    "data": {"values": [{"r": "Ref. value", "y": 2.05}]},
    "mark": {"type": "rule", "color": "#2a3f5f", "strokeWidth": 4},
    "encoding": {
      "y": {"field": "y", "type": "quantitative"},
      "strokeDash": {"field": "r", "type": "nominal", "scale": {"range": [[18, 18]]},
        "legend": {"orient": "none", "legendX": 477, "legendY": -143, "title": null, "symbolType": "stroke", "symbolSize": 2916, "symbolStrokeWidth": 4, "symbolStrokeColor": "#2a3f5f", "symbolDash": [18, 18], "labelOffset": 7}}
    }
  }
]
}
